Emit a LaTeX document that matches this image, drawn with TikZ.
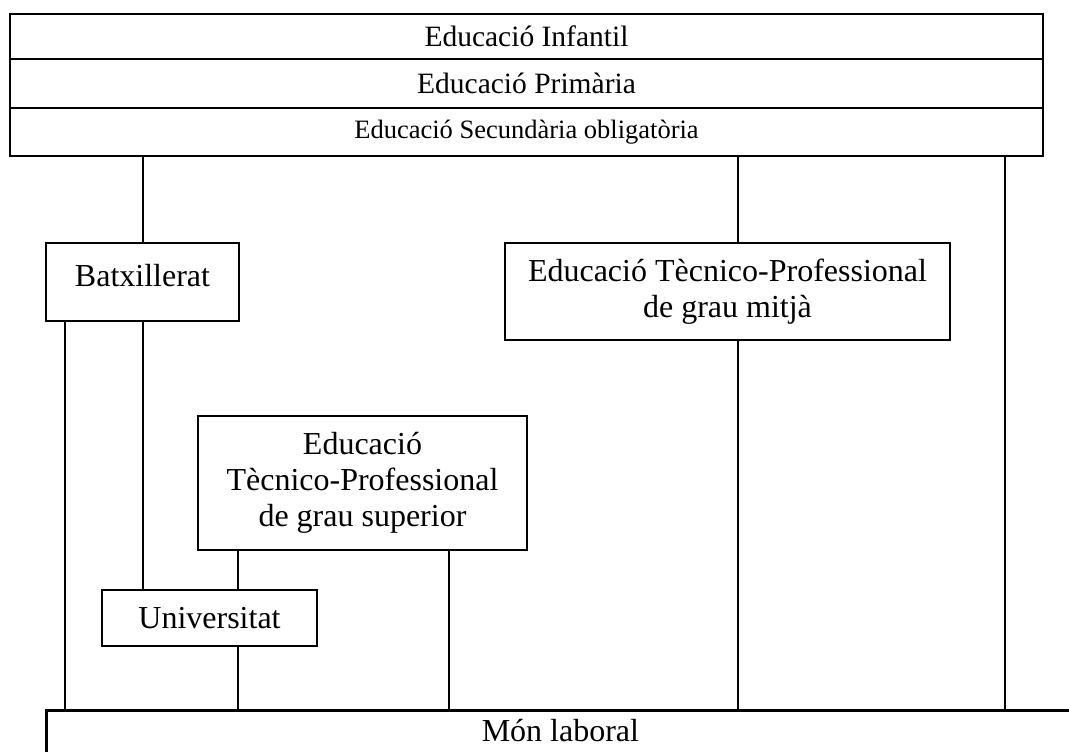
\documentclass[tikz,border=0pt]{standalone}
\usepackage{fontspec}
\setmainfont{Liberation Serif}
\begin{document}
\begin{tikzpicture}[x=1pt,y=-1pt,
  box/.style={draw=black, line width=2.8pt, fill=white, rectangle, inner sep=0pt,
    align=center, font=\fontsize{32}{36}\selectfont},
  rowbox/.style={box, minimum width=1033pt, font=\fontsize{29.5}{33}\selectfont},
  conn/.style={draw=black, line width=2.1pt}]
\useasboundingbox[fill=white] (0,0) rectangle (1069,752);

% column positions of the vertical connectors
\coordinate (c65) at (65,0);
\coordinate (c143) at (143,0);
\coordinate (c238) at (238,0);
\coordinate (c449) at (449,0);
\coordinate (c738) at (738,0);
\coordinate (c1005) at (1005,0);

% compulsory stages, stacked
\node[rowbox, minimum height=45pt] (inf) at (526.5,36.5) {Educació Infantil};
\node[rowbox, minimum height=49pt] (pri) at (526.5,83.5) {Educació Primària};
\node[rowbox, minimum height=48pt, font=\fontsize{26.5}{30}\selectfont] (sec) at (526.5,132) {Educació Secundària obligatòria};

% post-compulsory branches
\node[box, minimum width=193pt, minimum height=78pt] (bat) at (142.5,282) {\raisebox{14pt}{Batxillerat}};
\node[box, minimum width=445pt, minimum height=97pt] (mitja) at (727.5,291.5) {Educació Tècnico-Professional\\de grau mitjà};
\node[box, minimum width=329pt, minimum height=134pt] (sup) at (362.5,483) {Educació\\Tècnico-Professional\\de grau superior};
\node[box, minimum width=215pt, minimum height=56pt] (univ) at (209.5,618) {Universitat};
\node[box, minimum width=1028pt, minimum height=91pt, anchor=north west] (mon) at (45,709) {\raisebox{51pt}{Món laboral}};

% connectors
\draw[conn] (sec.south -| c143) -- (bat.north -| c143);
\draw[conn] (sec.south -| c738) -- (mitja.north -| c738);
\draw[conn] (sec.south -| c1005) -- (mon.north -| c1005);
\draw[conn] (bat.south -| c65) -- (mon.north -| c65);
\draw[conn] (bat.south -| c143) -- (univ.north -| c143);
\draw[conn] (mitja.south -| c738) -- (mon.north -| c738);
\draw[conn] (sup.south -| c238) -- (univ.north -| c238);
\draw[conn] (sup.south -| c449) -- (mon.north -| c449);
\draw[conn] (univ.south -| c238) -- (mon.north -| c238);
\end{tikzpicture}
\end{document}
